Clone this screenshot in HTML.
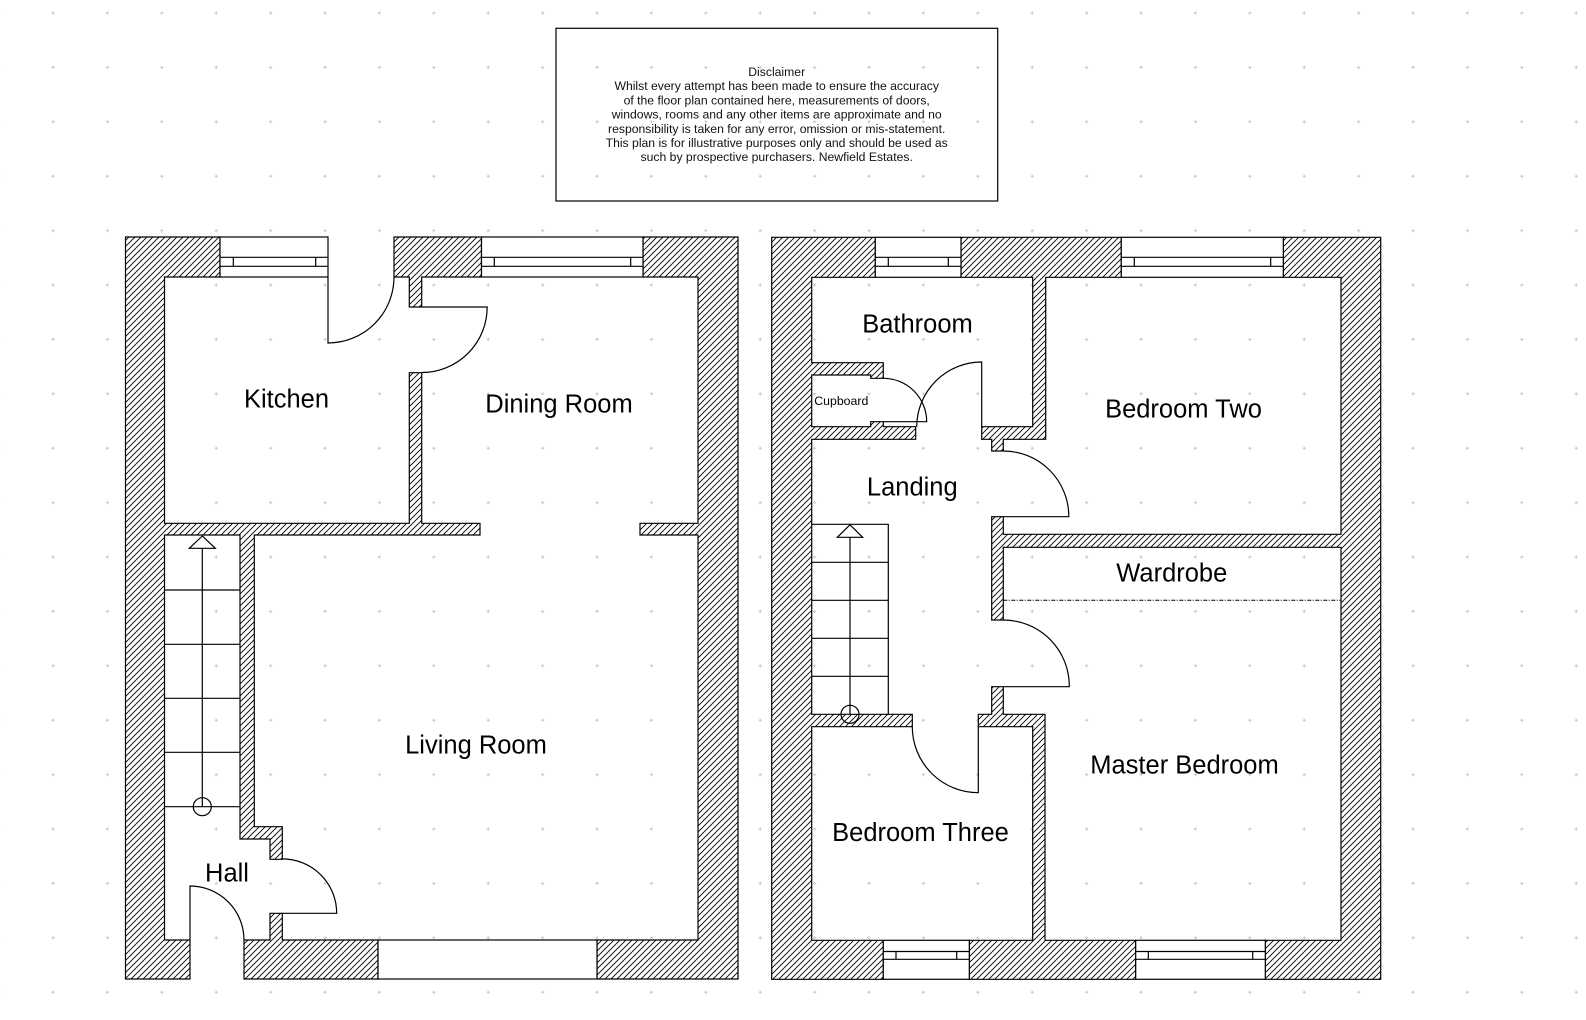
<!DOCTYPE html>
<html>
<head>
<meta charset="utf-8">
<style>
  html,body{margin:0;padding:0;background:#fff;}
  svg{display:block;}
  .lbl{font-family:"Liberation Sans",Arial,sans-serif;font-size:25.5px;fill:#000;text-anchor:middle;}
  .disc{font-family:"Liberation Sans",Arial,sans-serif;font-size:12.2px;fill:#111;text-anchor:middle;}
</style>
</head>
<body>
<svg width="1586" height="1020" viewBox="0 0 1586 1020" xmlns="http://www.w3.org/2000/svg">
  <defs>
    <pattern id="h" width="6" height="6" patternUnits="userSpaceOnUse">
      <rect width="6" height="6" fill="#fff"/>
      <path d="M0,6 L6,0 M-1,1 L1,-1 M5,7 L7,5" stroke="#000" stroke-width="0.9"/>
    </pattern>
    <pattern id="g" x="25.8" y="-14.2" width="54.4" height="54.4" patternUnits="userSpaceOnUse">
      <path d="M25.7,27.2 H28.7 M27.2,25.7 V28.7" stroke="#c4c4c4" stroke-width="1"/>
    </pattern>
  </defs>

  <rect width="1586" height="1020" fill="#fff"/>
  <rect width="1586" height="1020" fill="url(#g)"/>

  <!-- Disclaimer -->
  <rect x="556" y="28.3" width="441.7" height="172.7" fill="none" stroke="#000" stroke-width="1.2"/>
  <text class="disc" x="776.7" y="76">Disclaimer</text>
  <text class="disc" x="776.7" y="90.2">Whilst every attempt has been made to ensure the accuracy</text>
  <text class="disc" x="776.7" y="104.4">of the floor plan contained here, measurements of doors,</text>
  <text class="disc" x="776.7" y="118.6">windows, rooms and any other items are approximate and no</text>
  <text class="disc" x="776.7" y="132.8">responsibility is taken for any error, omission or mis-statement.</text>
  <text class="disc" x="776.7" y="147">This plan is for illustrative purposes only and should be used as</text>
  <text class="disc" x="776.7" y="161.2">such by prospective purchasers. Newfield Estates.</text>

  <g stroke="#000" stroke-width="1.2" stroke-linejoin="miter">
    <!-- ========== LEFT PLAN (Ground floor) ========== -->
    <polygon fill="url(#h)" points="220,237 125.5,237 125.5,979 190,979 190,940 164.5,940 164.5,535 240,535 240,839 270,839 270,859.3 282.3,859.3 282.3,826.7 254.3,826.7 254.3,535 480,535 480,523.3 421.7,523.3 421.7,372.7 409.3,372.7 409.3,523.3 164.5,523.3 164.5,277 220,277"/>
    <polygon fill="url(#h)" points="394,237 481.5,237 481.5,277 421.7,277 421.7,307 409.3,307 409.3,277 394,277"/>
    <polygon fill="url(#h)" points="643,237 738,237 738,979 597,979 597,940 698,940 698,535 640,535 640,523.3 698,523.3 698,277 643,277"/>
    <polygon fill="url(#h)" points="244,979 378,979 378,940 282.3,940 282.3,913.3 270,913.3 270,940 244,940"/>

    <!-- windows left -->
    <rect x="220" y="237" width="108" height="40" fill="#fff"/>
    <path fill="none" d="M220,257.3 H328 M220,266.3 H328 M233.3,257.3 V266.3 M315.7,257.3 V266.3"/>
    <rect x="481.5" y="237" width="161.5" height="40" fill="#fff"/>
    <path fill="none" d="M481.5,257.3 H643 M481.5,266.3 H643 M494.3,257.3 V266.3 M630.7,257.3 V266.3"/>
    <rect x="378" y="940" width="219" height="39" fill="#fff"/>

    <!-- doors left -->
    <path fill="none" d="M328,277 L328,343 A66,66 0 0 0 394,277"/>
    <path fill="none" d="M421.7,307 L487.2,307 A65.5,65.5 0 0 1 421.7,372.5"/>
    <path fill="none" d="M282.3,913.3 L336.7,913.3 A54.4,54.4 0 0 0 282.3,858.9"/>
    <path fill="none" d="M190,940 L190,886 A54,54 0 0 1 244,940"/>

    <!-- stairs left -->
    <path fill="none" d="M164.5,590 H240 M164.5,644.3 H240 M164.5,698.3 H240 M164.5,752.3 H240 M164.5,806.7 H240 M202.3,806.7 V548.3"/>
    <polygon fill="#fff" points="202.3,536 189.3,548.3 215.3,548.3"/>
    <circle cx="202.3" cy="806.7" r="9" fill="none"/>

    <!-- ========== RIGHT PLAN (First floor) ========== -->
    <polygon fill="url(#h)" points="875.3,237.3 771.7,237.3 771.7,979.3 883.3,979.3 883.3,940.3 811.7,940.3 811.7,726.7 912.3,726.7 912.3,714.3 811.7,714.3 811.7,439.3 915.7,439.3 915.7,426.7 883.3,426.7 883.3,421.7 870.7,421.7 870.7,426.7 811.7,426.7 811.7,375 870.7,375 870.7,378.3 883.3,378.3 883.3,362.7 811.7,362.7 811.7,277.3 875.3,277.3"/>
    <polygon fill="url(#h)" points="961,237.3 1121.3,237.3 1121.3,277.3 1045.7,277.3 1045.7,439.3 1003.3,439.3 1003.3,451 991.7,451 991.7,439.3 981.7,439.3 981.7,426.7 1032.7,426.7 1032.7,277.3 961,277.3"/>
    <polygon fill="url(#h)" points="1283.3,237.3 1380.7,237.3 1380.7,979.3 1265.3,979.3 1265.3,940.3 1341,940.3 1341,547.3 1003.3,547.3 1003.3,620 991.7,620 991.7,516.7 1003.3,516.7 1003.3,534.3 1341,534.3 1341,277.3 1283.3,277.3"/>
    <polygon fill="url(#h)" points="969.3,979.3 1135.7,979.3 1135.7,940.3 1045,940.3 1045,714.3 1003.3,714.3 1003.3,686.7 991.7,686.7 991.7,714.3 978.3,714.3 978.3,726.7 1032.7,726.7 1032.7,940.3 969.3,940.3"/>

    <!-- windows right -->
    <rect x="875.3" y="237.3" width="85.7" height="40" fill="#fff"/>
    <path fill="none" d="M875.3,257.3 H961 M875.3,266.3 H961 M888.3,257.3 V266.3 M948.3,257.3 V266.3"/>
    <rect x="1121.3" y="237.3" width="162" height="40" fill="#fff"/>
    <path fill="none" d="M1121.3,257.3 H1283.3 M1121.3,266.3 H1283.3 M1134.3,257.3 V266.3 M1270.7,257.3 V266.3"/>
    <rect x="883.3" y="940.3" width="86" height="39" fill="#fff"/>
    <path fill="none" d="M883.3,951.5 H969.3 M883.3,959.3 H969.3 M896,951.5 V959.3 M956.7,951.5 V959.3"/>
    <rect x="1135.7" y="940.3" width="129.6" height="39" fill="#fff"/>
    <path fill="none" d="M1135.7,951.5 H1265.3 M1135.7,959.3 H1265.3 M1148.3,951.5 V959.3 M1252.7,951.5 V959.3"/>

    <!-- doors right -->
    <path fill="none" d="M981.7,426.7 L981.7,362 A65,65 0 0 0 916.7,426.7"/>
    <path fill="none" d="M883.3,378.3 A43.4,43.4 0 0 1 926.7,421.7 L883.3,421.7"/>
    <path fill="none" d="M1003.3,451 A65.5,65.5 0 0 1 1068.8,516.7 L1003.3,516.7"/>
    <path fill="none" d="M1003.3,620 A66,66 0 0 1 1069.3,686.7 L1003.3,686.7"/>
    <path fill="none" d="M912.3,726.7 A66,66 0 0 0 978.3,792.7 L978.3,726.7"/>

    <!-- stairs right -->
    <path fill="none" d="M811.7,524.3 H888.3 V714.3 M811.7,562.3 H888.3 M811.7,600.3 H888.3 M811.7,638.3 H888.3 M811.7,676.3 H888.3 M850,714.3 V537.3"/>
    <polygon fill="#fff" points="850,524.8 837.3,537.3 862.7,537.3"/>
    <circle cx="850" cy="714.3" r="9" fill="none"/>
  </g>

  <!-- wardrobe dashed line -->
  <line x1="1003.3" y1="600.3" x2="1341" y2="600.3" stroke="#000" stroke-width="1" stroke-dasharray="4,1.5,1,1.5"/>

  <!-- Labels -->
  <text class="lbl" x="286.5" y="407.7">Kitchen</text>
  <text class="lbl" x="559" y="412.7">Dining Room</text>
  <text class="lbl" x="476" y="753.3">Living Room</text>
  <text class="lbl" x="227" y="881.7">Hall</text>
  <text class="lbl" x="917.5" y="332.7">Bathroom</text>
  <text class="lbl" x="912.3" y="495.7">Landing</text>
  <text class="lbl" x="1183.5" y="417.7">Bedroom Two</text>
  <text class="lbl" x="1171.8" y="581.7">Wardrobe</text>
  <text class="lbl" x="1184.5" y="773.3">Master Bedroom</text>
  <text class="lbl" x="920.5" y="841">Bedroom Three</text>
  <text x="841.3" y="405" style="font-family:'Liberation Sans',Arial,sans-serif;font-size:12.3px;fill:#000;text-anchor:middle;">Cupboard</text>
</svg>
</body>
</html>
